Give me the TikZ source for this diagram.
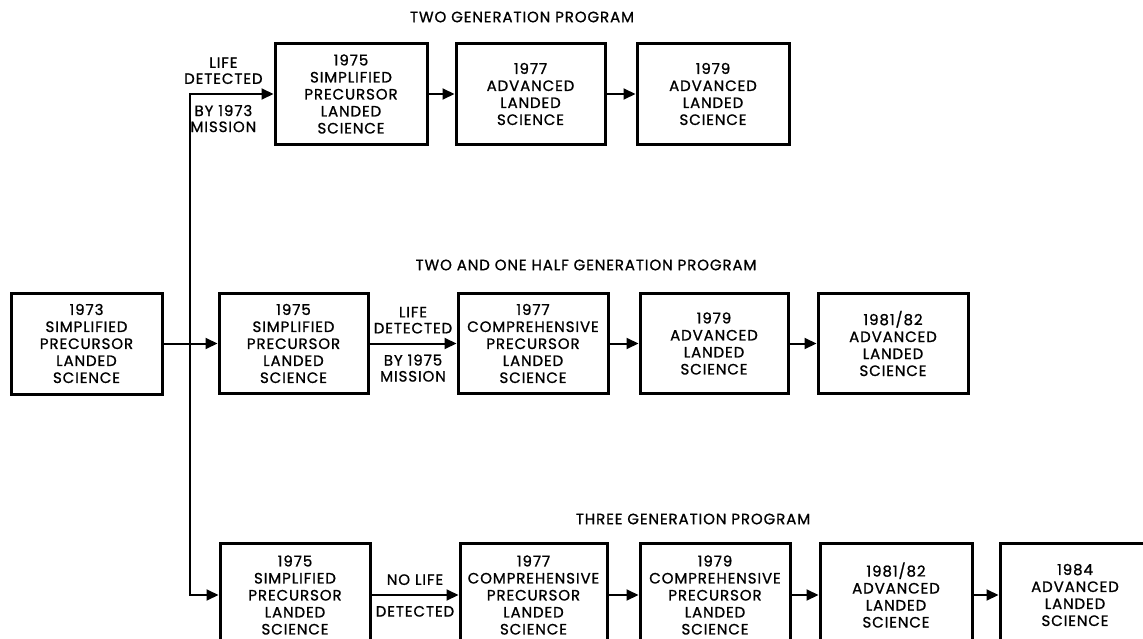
\documentclass[tikz,border=0pt]{standalone}
\usepackage{fontspec}
\setmainfont{Poppins}[LetterSpace=6,FakeBold=1]
\usetikzlibrary{arrows.meta}
\begin{document}
\begin{tikzpicture}[x=1pt,y=-1pt,
  stage/.style={draw, line width=3pt, align=center, inner sep=0pt,
    font=\fontsize{15}{17}\selectfont},
  flow/.style={line width=2pt, -{Triangle[length=12pt,width=11pt]}},
  lbl/.style={align=center, inner sep=0pt, font=\fontsize{15}{16}\selectfont},
  heading/.style={inner sep=0pt, font=\fontsize{15}{16}\selectfont}]
\clip (0,0) rectangle (1143,639);

% starting mission
\node[stage, minimum width=151pt, minimum height=101pt] (a) at (86.5,343.5)
  {1973\\SIMPLIFIED\\PRECURSOR\\LANDED\\SCIENCE};

% two generation program
\node[heading] (ht) at (522,17) {TWO GENERATION PROGRAM};
\node[stage, minimum width=152pt, minimum height=101pt] (t1) at (351,94)
  {1975\\SIMPLIFIED\\PRECURSOR\\LANDED\\SCIENCE};
\node[stage, minimum width=149pt, minimum height=101pt] (t2) at (530.5,94)
  {1977\\ADVANCED\\LANDED\\SCIENCE};
\node[stage, minimum width=152pt, minimum height=101pt] (t3) at (713,94)
  {1979\\ADVANCED\\LANDED\\SCIENCE};

% two and one half generation program
\node[heading] (hm) at (586,265) {TWO AND ONE HALF GENERATION PROGRAM};
\node[stage, minimum width=149pt, minimum height=100pt] (m1) at (293.5,343.5)
  {1975\\SIMPLIFIED\\PRECURSOR\\LANDED\\SCIENCE};
\node[stage, minimum width=150pt, minimum height=100pt] (m2) at (533,343.5)
  {1977\\COMPREHENSIVE\\PRECURSOR\\LANDED\\SCIENCE};
\node[stage, minimum width=148pt, minimum height=100pt] (m3) at (714,343.5)
  {1979\\ADVANCED\\LANDED\\SCIENCE};
\node[stage, minimum width=150pt, minimum height=100pt] (m4) at (893,343.5)
  {1981/82\\ADVANCED\\LANDED\\SCIENCE};

% three generation program
\node[heading] (hb) at (693,519) {THREE GENERATION PROGRAM};
\node[stage, minimum width=150pt, minimum height=104pt] (b1) at (295,595)
  {1975\\SIMPLIFIED\\PRECURSOR\\LANDED\\SCIENCE};
\node[stage, minimum width=147pt, minimum height=104pt] (b2) at (533.5,595)
  {1977\\COMPREHENSIVE\\PRECURSOR\\LANDED\\SCIENCE};
\node[stage, minimum width=150pt, minimum height=104pt] (b3) at (715,595)
  {1979\\COMPREHENSIVE\\PRECURSOR\\LANDED\\SCIENCE};
\node[stage, minimum width=152pt, minimum height=104pt] (b4) at (896,595)
  {1981/82\\ADVANCED\\LANDED\\SCIENCE};
\node[stage, minimum width=150pt, minimum height=104pt] (b5) at (1075,595)
  {1984\\ADVANCED\\LANDED\\SCIENCE};

% branching
\coordinate (split) at (190,343.5);
\draw[flow] (a) -- (m1);
\draw[flow] (split) |- node[pos=0.7, above=9pt, lbl] {LIFE\\DETECTED}
  node[pos=0.7, below=10pt, lbl] {BY 1973\\MISSION} (t1);
\draw[flow] (split) |- (b1);

% sequences
\draw[flow] (t1) -- (t2);
\draw[flow] (t2) -- (t3);
\draw[flow] (m1) -- node[above=9pt, lbl] {LIFE\\DETECTED}
  node[below=10pt, lbl] {BY 1975\\MISSION} (m2);
\draw[flow] (m2) -- (m3);
\draw[flow] (m3) -- (m4);
\draw[flow] (b1) -- node[above=9pt, lbl] {NO LIFE}
  node[below=10pt, lbl] {DETECTED} (b2);
\draw[flow] (b2) -- (b3);
\draw[flow] (b3) -- (b4);
\draw[flow] (b4) -- (b5);
\end{tikzpicture}
\end{document}
